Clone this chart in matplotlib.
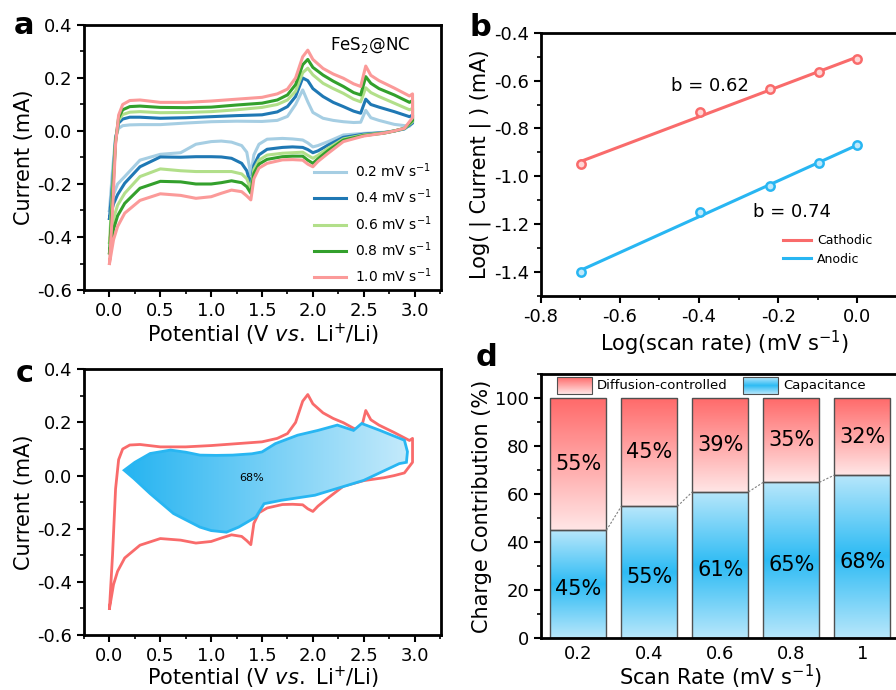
import numpy as np
import matplotlib
matplotlib.use('Agg')
import matplotlib.pyplot as plt
from matplotlib.colors import LinearSegmentedColormap
from matplotlib.patches import Polygon
from matplotlib.ticker import MultipleLocator

plt.rcParams['font.family'] = ['DejaVu Sans']
plt.rcParams['mathtext.fontset'] = 'dejavusans'
plt.rcParams['axes.linewidth'] = 2.0

# ---------------- data: panel a (CV curves) ----------------
v_up = [0.0, 0.03, 0.06, 0.09, 0.13, 0.2, 0.3, 0.5, 0.75, 1.0, 1.25, 1.5, 1.65, 1.75,
        1.83, 1.9, 1.95, 2.0, 2.1, 2.2, 2.3, 2.4, 2.47, 2.52, 2.57, 2.65, 2.8, 2.95, 2.98]
v_dn = [2.98, 2.9, 2.8, 2.7, 2.5, 2.3, 2.15, 2.05, 2.0, 1.95, 1.9, 1.8, 1.7, 1.55, 1.47,
        1.42, 1.39, 1.35, 1.3, 1.2, 1.1, 1.0, 0.85, 0.7, 0.5, 0.3, 0.15, 0.08, 0.04, 0.0]

up_02 = [-0.30, -0.15, -0.02, 0.01, 0.02, 0.023, 0.024, 0.024, 0.03, 0.035, 0.037, 0.036, 0.04, 0.055,
         0.10, 0.155, 0.11, 0.07, 0.048, 0.04, 0.035, 0.032, 0.033, 0.078, 0.05, 0.04, 0.025, 0.018, 0.03]
dn_02 = [0.04, 0.008, 0.0, -0.005, -0.009, -0.015, -0.04, -0.055, -0.06, -0.045, -0.034, -0.03, -0.028,
         -0.031, -0.05, -0.09, -0.165, -0.08, -0.055, -0.042, -0.038, -0.04, -0.05, -0.082, -0.088,
         -0.11, -0.172, -0.2, -0.24, -0.30]

up_04 = [-0.33, -0.2, -0.03, 0.03, 0.045, 0.052, 0.052, 0.048, 0.05, 0.054, 0.058, 0.061, 0.072, 0.092,
         0.13, 0.2, 0.19, 0.16, 0.13, 0.108, 0.092, 0.075, 0.067, 0.12, 0.1, 0.09, 0.073, 0.054, 0.06]
dn_04 = [0.03, 0.008, 0.0, -0.006, -0.012, -0.024, -0.053, -0.075, -0.082, -0.07, -0.062, -0.06, -0.062,
         -0.069, -0.09, -0.13, -0.205, -0.15, -0.122, -0.103, -0.098, -0.097, -0.097, -0.099, -0.098,
         -0.135, -0.197, -0.24, -0.275, -0.33]

up_06 = [-0.42, -0.22, -0.04, 0.04, 0.062, 0.071, 0.073, 0.069, 0.07, 0.073, 0.08, 0.089, 0.1, 0.117,
         0.15, 0.22, 0.237, 0.212, 0.18, 0.16, 0.142, 0.12, 0.11, 0.163, 0.145, 0.13, 0.105, 0.08, 0.085]
dn_06 = [0.035, 0.01, 0.0, -0.007, -0.015, -0.03, -0.065, -0.092, -0.103, -0.092, -0.08, -0.082, -0.084,
         -0.091, -0.11, -0.145, -0.222, -0.18, -0.162, -0.153, -0.153, -0.153, -0.153, -0.15, -0.143,
         -0.172, -0.235, -0.28, -0.33, -0.42]

up_08 = [-0.46, -0.25, -0.04, 0.05, 0.08, 0.092, 0.094, 0.089, 0.088, 0.09, 0.098, 0.105, 0.117, 0.136,
         0.175, 0.25, 0.27, 0.24, 0.211, 0.188, 0.168, 0.145, 0.136, 0.205, 0.18, 0.16, 0.136, 0.108, 0.115]
dn_08 = [0.04, 0.01, 0.0, -0.008, -0.017, -0.034, -0.074, -0.105, -0.122, -0.11, -0.095, -0.095, -0.097,
         -0.107, -0.125, -0.16, -0.235, -0.21, -0.195, -0.188, -0.195, -0.2, -0.2, -0.192, -0.19,
         -0.216, -0.273, -0.32, -0.37, -0.46]

up_10 = [-0.5, -0.3, -0.05, 0.06, 0.1, 0.115, 0.117, 0.108, 0.108, 0.113, 0.12, 0.127, 0.14, 0.158,
         0.2, 0.28, 0.305, 0.27, 0.236, 0.215, 0.199, 0.178, 0.168, 0.245, 0.21, 0.19, 0.162, 0.132, 0.14]
dn_10 = [0.05, 0.01, 0.0, -0.008, -0.019, -0.04, -0.084, -0.115, -0.135, -0.125, -0.11, -0.108, -0.109,
         -0.122, -0.14, -0.18, -0.26, -0.245, -0.229, -0.223, -0.235, -0.248, -0.254, -0.243, -0.237,
         -0.262, -0.31, -0.36, -0.41, -0.5]

cv_labels = ['0.2 mV s$^{-1}$', '0.4 mV s$^{-1}$', '0.6 mV s$^{-1}$', '0.8 mV s$^{-1}$', '1.0 mV s$^{-1}$']

# ---------------- data: panel b ----------------
scan_rates = [0.2, 0.4, 0.6, 0.8, 1.0]
log_cathodic = [-0.95, -0.73, -0.635, -0.565, -0.51]
log_anodic = [-1.40, -1.15, -1.04, -0.945, -0.87]

# ---------------- data: panel c (capacitive region at 1.0 mV/s) ----------------
cap_v_up = [0.145, 0.25, 0.4, 0.6, 0.75, 0.89, 1.05, 1.21, 1.4, 1.5, 1.63, 1.85, 2.05, 2.24,
            2.4, 2.48, 2.66, 2.9, 2.93, 2.92]
cap_i_up = [0.02, 0.05, 0.083, 0.096, 0.088, 0.077, 0.076, 0.077, 0.082, 0.089, 0.12, 0.152, 0.17,
            0.19, 0.17, 0.196, 0.17, 0.133, 0.09, 0.05]
cap_v_dn = [2.85, 2.5, 2.02, 1.69, 1.52, 1.44, 1.27, 1.15, 1.0, 0.89, 0.63, 0.4, 0.24]
cap_i_dn = [0.045, -0.018, -0.074, -0.093, -0.106, -0.156, -0.194, -0.213, -0.207, -0.194, -0.143,
            -0.068, -0.011]

# ---------------- data: panel d ----------------
rate_labels = ['0.2', '0.4', '0.6', '0.8', '1']
capacitive = [45, 55, 61, 65, 68]
diffusion = [55, 45, 39, 35, 32]

cv_colors = ['#a6cee3', '#1f78b4', '#b2df8a', '#33a02c', '#fb9a99']
red = '#f96b6b'
blue = '#28b6f2'

fig = plt.figure(figsize=(8.96, 6.90), dpi=100)

def style(ax, labelsize=13):
    ax.tick_params(which='major', direction='out', length=5, width=1.5, labelsize=labelsize,
                   top=False, right=False)
    ax.tick_params(which='minor', direction='out', length=3, width=1.2, top=False, right=False)

# ---------- panel a ----------
ax = fig.add_axes([0.0938, 0.5797, 0.3984, 0.3841])
ups = [up_02, up_04, up_06, up_08, up_10]
dns = [dn_02, dn_04, dn_06, dn_08, dn_10]
for up, dn, c, lab in zip(ups, dns, cv_colors, cv_labels):
    ax.plot(v_up + v_dn, up + dn, color=c, lw=2.2, label=lab, solid_joinstyle='round')
ax.set_xlim(-0.25, 3.26)
ax.set_ylim(-0.6, 0.4)
ax.xaxis.set_minor_locator(MultipleLocator(0.25))
ax.yaxis.set_minor_locator(MultipleLocator(0.1))
ax.set_xticks([0, 0.5, 1, 1.5, 2, 2.5, 3])
ax.set_xticklabels(['0.0', '0.5', '1.0', '1.5', '2.0', '2.5', '3.0'])
ax.set_yticks([-0.6, -0.4, -0.2, 0.0, 0.2, 0.4])
ax.set_yticklabels(['-0.6', '-0.4', '-0.2', '0.0', '0.2', '0.4'])
style(ax)
ax.set_xlabel('Potential (V $\\it{vs.}$ Li$^{+}$/Li)', fontsize=15, labelpad=1)
ax.set_ylabel('Current (mA)', fontsize=15, labelpad=2)
ax.text(0.69, 0.925, 'FeS$_2$@NC', transform=ax.transAxes, fontsize=12, va='center')
ax.legend(loc='upper left', bbox_to_anchor=(0.645, 0.485), frameon=False, fontsize=10,
          handlelength=2.3, handletextpad=0.6, labelspacing=0.55, borderpad=0, borderaxespad=0)

# ---------- panel b ----------
ax = fig.add_axes([0.6035, 0.571, 0.41, 0.3816])
lx = np.log10(scan_rates)
for ys, c, lab in [(log_cathodic, red, 'Cathodic'), (log_anodic, blue, 'Anodic')]:
    k, b0 = np.polyfit(lx, ys, 1)
    ax.plot([lx[0], lx[-1]], [k * lx[0] + b0, k * lx[-1] + b0], color=c, lw=2.2, label=lab)
    ax.plot(lx, ys, 'o', ms=6, mfc='#ffd6d6' if c == red else '#bfe9fb', mec=c, mew=1.8)
ax.set_xlim(-0.8, 0.128)
ax.set_ylim(-1.5, -0.4)
ax.xaxis.set_minor_locator(MultipleLocator(0.1))
ax.yaxis.set_minor_locator(MultipleLocator(0.1))
ax.set_xticks([-0.8, -0.6, -0.4, -0.2, 0.0])
ax.set_xticklabels(['-0.8', '-0.6', '-0.4', '-0.2', '0.0'])
ax.set_yticks([-1.4, -1.2, -1.0, -0.8, -0.6, -0.4])
ax.set_yticklabels(['-1.4', '-1.2', '-1.0', '-0.8', '-0.6', '-0.4'])
style(ax)
ax.spines['right'].set_visible(False)
ax.set_xlabel('Log(scan rate) (mV s$^{-1}$)', fontsize=15, labelpad=2)
ax.set_ylabel('Log( | Current | ) (mA)', fontsize=15, labelpad=2)
ax.text(-0.47, -0.622, 'b = 0.62', fontsize=13, va='center')
ax.text(-0.265, -1.149, 'b = 0.74', fontsize=13, va='center')
ax.legend(loc='upper left', bbox_to_anchor=(0.66, 0.235), frameon=False, fontsize=9,
          handlelength=2.2, handletextpad=0.5, labelspacing=0.45, borderpad=0, borderaxespad=0)

# ---------- panel c ----------
ax = fig.add_axes([0.0938, 0.0797, 0.3984, 0.3851])
ax.plot(v_up + v_dn, up_10 + dn_10, color=red, lw=2, solid_joinstyle='round')
poly = Polygon(list(zip(cap_v_up + cap_v_dn, cap_i_up + cap_i_dn)), closed=True,
               facecolor='none', edgecolor=blue, lw=2, zorder=3)
ax.add_patch(poly)
cmap_h = LinearSegmentedColormap.from_list('h', ['#26b4f1', '#c4eafb'])
grad = np.linspace(0, 1, 256).reshape(1, -1)
im = ax.imshow(grad, extent=[0.145, 2.93, -0.22, 0.2], aspect='auto', cmap=cmap_h,
               origin='lower', zorder=2)
im.set_clip_path(poly)
ax.text(1.4, -0.008, '68%', fontsize=8, ha='center', va='center', zorder=4)
ax.set_xlim(-0.25, 3.26)
ax.set_ylim(-0.6, 0.4)
ax.xaxis.set_minor_locator(MultipleLocator(0.25))
ax.yaxis.set_minor_locator(MultipleLocator(0.1))
ax.set_xticks([0, 0.5, 1, 1.5, 2, 2.5, 3])
ax.set_xticklabels(['0.0', '0.5', '1.0', '1.5', '2.0', '2.5', '3.0'])
ax.set_yticks([-0.6, -0.4, -0.2, 0.0, 0.2, 0.4])
ax.set_yticklabels(['-0.6', '-0.4', '-0.2', '0.0', '0.2', '0.4'])
style(ax)
ax.set_xlabel('Potential (V $\\it{vs.}$ Li$^{+}$/Li)', fontsize=15, labelpad=0)
ax.set_ylabel('Current (mA)', fontsize=15, labelpad=2)

# ---------- panel d ----------
ax = fig.add_axes([0.6035, 0.0749, 0.4009, 0.3826])
cmap_b = LinearSegmentedColormap.from_list('b', ['#b8e7fb', '#2dbbf4', '#b8e7fb'])
cmap_r = LinearSegmentedColormap.from_list('r', ['#ffe6e6', '#ff6a6a'])
vgrad = np.linspace(0, 1, 256).reshape(-1, 1)
w = 0.79
xs = np.arange(len(rate_labels))
for x, cp, df in zip(xs, capacitive, diffusion):
    ax.imshow(vgrad, extent=[x - w / 2, x + w / 2, 0, cp], aspect='auto', cmap=cmap_b,
              origin='lower', zorder=1)
    ax.imshow(vgrad, extent=[x - w / 2, x + w / 2, cp, cp + df], aspect='auto', cmap=cmap_r,
              origin='lower', zorder=1)
ax.bar(xs, capacitive, w, fill=False, edgecolor='#505050', lw=1, zorder=2)
ax.bar(xs, diffusion, w, bottom=capacitive, fill=False, edgecolor='#505050', lw=1, zorder=2)
for i in range(len(xs) - 1):
    ax.plot([xs[i] + w / 2, xs[i + 1] - w / 2], [capacitive[i], capacitive[i + 1]],
            ls=(0, (2, 1.5)), color='#808080', lw=0.8, zorder=2)
for x, cp, df in zip(xs, capacitive, diffusion):
    ax.text(x, cp / 2 - 2, f'{cp}%', ha='center', va='center', fontsize=15, zorder=3)
    ax.text(x, cp + df / 2, f'{df}%', ha='center', va='center', fontsize=15, zorder=3)
# legend boxes drawn as gradient rectangles
ax.imshow(vgrad, extent=[-0.30, 0.19, 101.8, 108.8], aspect='auto', cmap=cmap_r, origin='lower', zorder=3)
ax.imshow(vgrad, extent=[2.32, 2.81, 101.8, 108.8], aspect='auto', cmap=cmap_b, origin='lower', zorder=3)
ax.bar([-0.055, 2.565], [7, 7], 0.49, bottom=101.8, fill=False, edgecolor='#505050', lw=0.8, zorder=4)
ax.text(0.26, 105.3, 'Diffusion-controlled', fontsize=9.5, va='center')
ax.text(2.89, 105.3, 'Capacitance', fontsize=9.5, va='center')
ax.set_xlim(-0.53, 4.53)
ax.set_ylim(0, 110)
ax.set_xticks(xs)
ax.set_xticklabels(rate_labels)
ax.set_yticks([0, 20, 40, 60, 80, 100])
ax.yaxis.set_minor_locator(MultipleLocator(10))
style(ax)
ax.tick_params(axis='x', which='both', length=0, pad=5)
ax.spines['right'].set_visible(False)
ax.set_xlabel('Scan Rate (mV s$^{-1}$)', fontsize=15, labelpad=0)
ax.set_ylabel('Charge Contribution (%)', fontsize=15, labelpad=2)

# panel letters
for ch, px, py in [('a', 24, 26), ('b', 480, 28), ('c', 25, 373), ('d', 486, 357)]:
    fig.text(px / 896, 1 - py / 690, ch, fontsize=22, fontweight='bold', ha='center', va='center')

fig.savefig('out.png', dpi=100)
